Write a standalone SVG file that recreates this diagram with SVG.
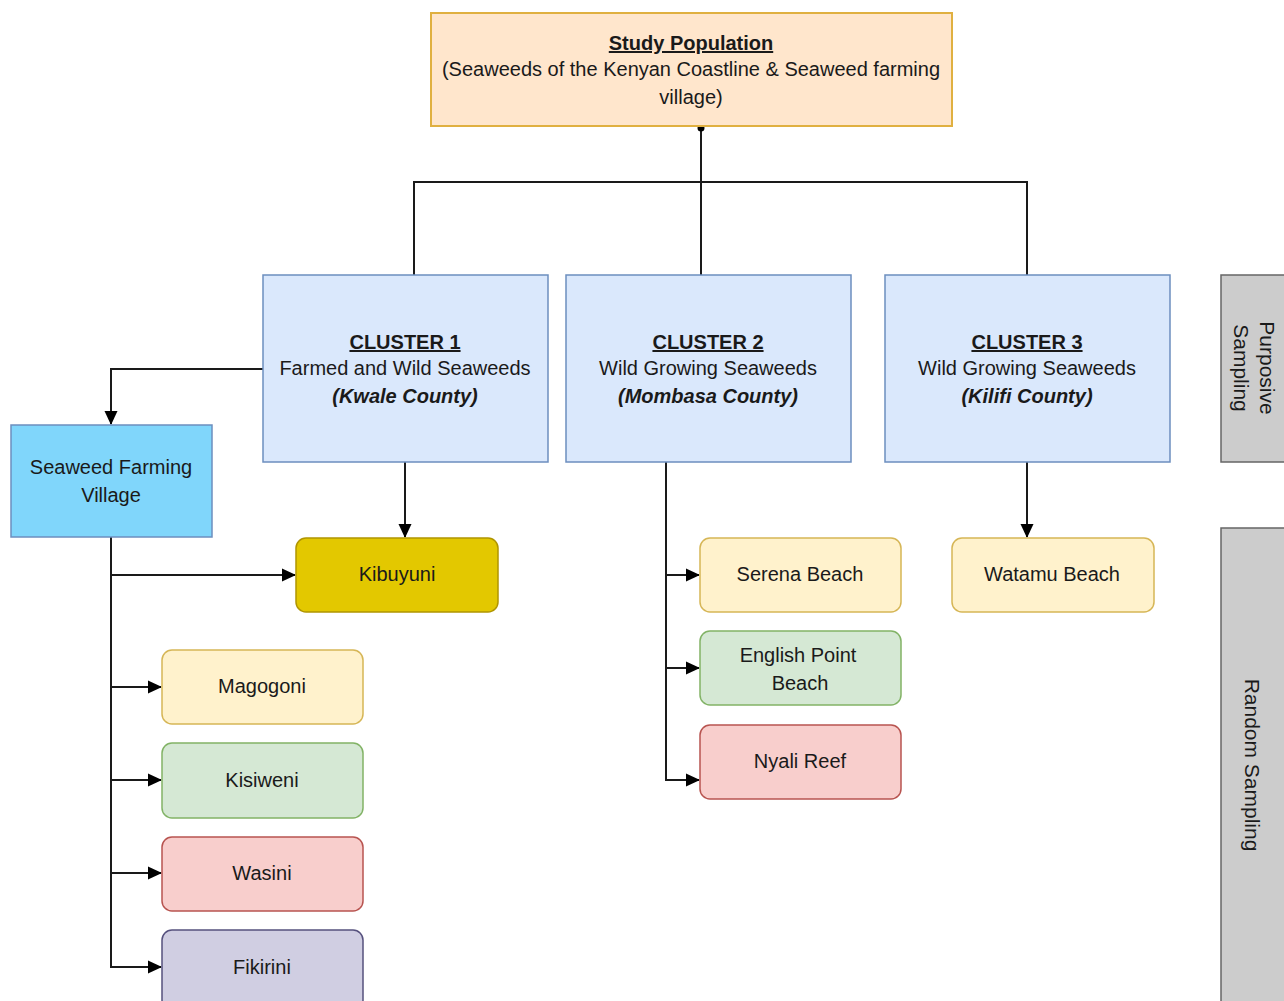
<svg xmlns="http://www.w3.org/2000/svg" width="1284" height="1001" viewBox="0 0 1284 1001">
<style>
text{font-family:"Liberation Sans",Arial,sans-serif;font-size:20px;fill:#1a1a1a;text-anchor:middle}
.b{font-weight:bold}
.u{text-decoration:underline}
.bi{font-weight:bold;font-style:italic}
.r{font-size:21px}
.cl{fill:#dae8fc;stroke:#6c8ebf;stroke-width:1.5}
.gr{fill:#cccccc;stroke:#666666;stroke-width:1.5}
.c line,.c polyline{stroke:#1a1a1a;stroke-width:2;fill:none}
</style>
<defs>
<marker id="a" viewBox="0 0 14 14" refX="13" refY="7" markerWidth="14" markerHeight="14" markerUnits="userSpaceOnUse" orient="auto"><path d="M0,0.5 L14,7 L0,13.5 Z" fill="#000"/></marker>
<marker id="o" viewBox="0 0 8 8" refX="4" refY="4" markerWidth="8" markerHeight="8" markerUnits="userSpaceOnUse"><circle cx="4" cy="4" r="3.5" fill="#000"/></marker>
</defs>
<g class="c" id="connectors">
<polyline points="701,128 701,182" marker-start="url(#o)"/>
<polyline points="414,275 414,182 1027,182 1027,275"/>
<line x1="701" y1="182" x2="701" y2="275"/>
<polyline points="263,369 111,369 111,424" marker-end="url(#a)"/>
<line x1="405" y1="462" x2="405" y2="537" marker-end="url(#a)"/>
<line x1="111" y1="537" x2="111" y2="967"/>
<line x1="111" y1="575" x2="295" y2="575" marker-end="url(#a)"/>
<line x1="111" y1="687" x2="161" y2="687" marker-end="url(#a)"/>
<line x1="111" y1="780" x2="161" y2="780" marker-end="url(#a)"/>
<line x1="111" y1="873" x2="161" y2="873" marker-end="url(#a)"/>
<line x1="110" y1="967" x2="161" y2="967" marker-end="url(#a)"/>
<line x1="666" y1="462" x2="666" y2="780"/>
<line x1="666" y1="575" x2="699" y2="575" marker-end="url(#a)"/>
<line x1="666" y1="668" x2="699" y2="668" marker-end="url(#a)"/>
<line x1="665" y1="780" x2="699" y2="780" marker-end="url(#a)"/>
<line x1="1027" y1="462" x2="1027" y2="537" marker-end="url(#a)"/>
</g>
<g id="study">
<rect x="431" y="13" width="521" height="113" fill="#ffe6cc" stroke="#e0b040" stroke-width="2"/>
<text x="691" y="50" class="b u">Study Population</text>
<text x="691" y="76">(Seaweeds of the Kenyan Coastline &amp; Seaweed farming</text>
<text x="691" y="104">village)</text>
</g>
<g id="cluster1">
<rect x="263" y="275" width="285" height="187" class="cl"/>
<text x="405" y="349" class="b u">CLUSTER 1</text>
<text x="405" y="375">Farmed and Wild Seaweeds</text>
<text x="405" y="403" class="bi">(Kwale County)</text>
</g>
<g id="cluster2">
<rect x="566" y="275" width="285" height="187" class="cl"/>
<text x="708" y="349" class="b u">CLUSTER 2</text>
<text x="708" y="375">Wild Growing Seaweeds</text>
<text x="708" y="403" class="bi">(Mombasa County)</text>
</g>
<g id="cluster3">
<rect x="885" y="275" width="285" height="187" class="cl"/>
<text x="1027" y="349" class="b u">CLUSTER 3</text>
<text x="1027" y="375">Wild Growing Seaweeds</text>
<text x="1027" y="403" class="bi">(Kilifi County)</text>
</g>
<g id="purposive">
<rect x="1221" y="275" width="80" height="187" class="gr"/>
<text class="r" transform="translate(1253,368) rotate(90)"><tspan x="0" y="-7">Purposive</tspan><tspan x="0" y="19">Sampling</tspan></text>
</g>
<g id="random">
<rect x="1221" y="528" width="80" height="490" class="gr"/>
<text class="r" transform="translate(1245,765) rotate(90)" y="0">Random Sampling</text>
</g>
<g id="sfv">
<rect x="11" y="425" width="201" height="112" fill="#80d6fb" stroke="#6c8ebf" stroke-width="1.5"/>
<text x="111" y="474">Seaweed Farming</text>
<text x="111" y="502">Village</text>
</g>
<g id="kibuyuni">
<rect x="296" y="538" width="202" height="74" rx="10" fill="#e3c800" stroke="#b09500" stroke-width="1.5"/>
<text x="397" y="581">Kibuyuni</text>
</g>
<g id="magogoni">
<rect x="162" y="650" width="201" height="74" rx="10" fill="#fff2cc" stroke="#d6b656" stroke-width="1.5"/>
<text x="262" y="693">Magogoni</text>
</g>
<g id="kisiweni">
<rect x="162" y="743" width="201" height="75" rx="10" fill="#d5e8d4" stroke="#82b366" stroke-width="1.5"/>
<text x="262" y="787">Kisiweni</text>
</g>
<g id="wasini">
<rect x="162" y="837" width="201" height="74" rx="10" fill="#f8cecc" stroke="#b85450" stroke-width="1.5"/>
<text x="262" y="880">Wasini</text>
</g>
<g id="fikirini">
<rect x="162" y="930" width="201" height="80" rx="10" fill="#d0cee2" stroke="#56517e" stroke-width="1.5"/>
<text x="262" y="974">Fikirini</text>
</g>
<g id="serena">
<rect x="700" y="538" width="201" height="74" rx="10" fill="#fff2cc" stroke="#d6b656" stroke-width="1.5"/>
<text x="800" y="581">Serena Beach</text>
</g>
<g id="english">
<rect x="700" y="631" width="201" height="74" rx="10" fill="#d5e8d4" stroke="#82b366" stroke-width="1.5"/>
<text x="798" y="662">English Point</text>
<text x="800" y="690">Beach</text>
</g>
<g id="nyali">
<rect x="700" y="725" width="201" height="74" rx="10" fill="#f8cecc" stroke="#b85450" stroke-width="1.5"/>
<text x="800" y="768">Nyali Reef</text>
</g>
<g id="watamu">
<rect x="952" y="538" width="202" height="74" rx="10" fill="#fff2cc" stroke="#d6b656" stroke-width="1.5"/>
<text x="1052" y="581">Watamu Beach</text>
</g>
</svg>
